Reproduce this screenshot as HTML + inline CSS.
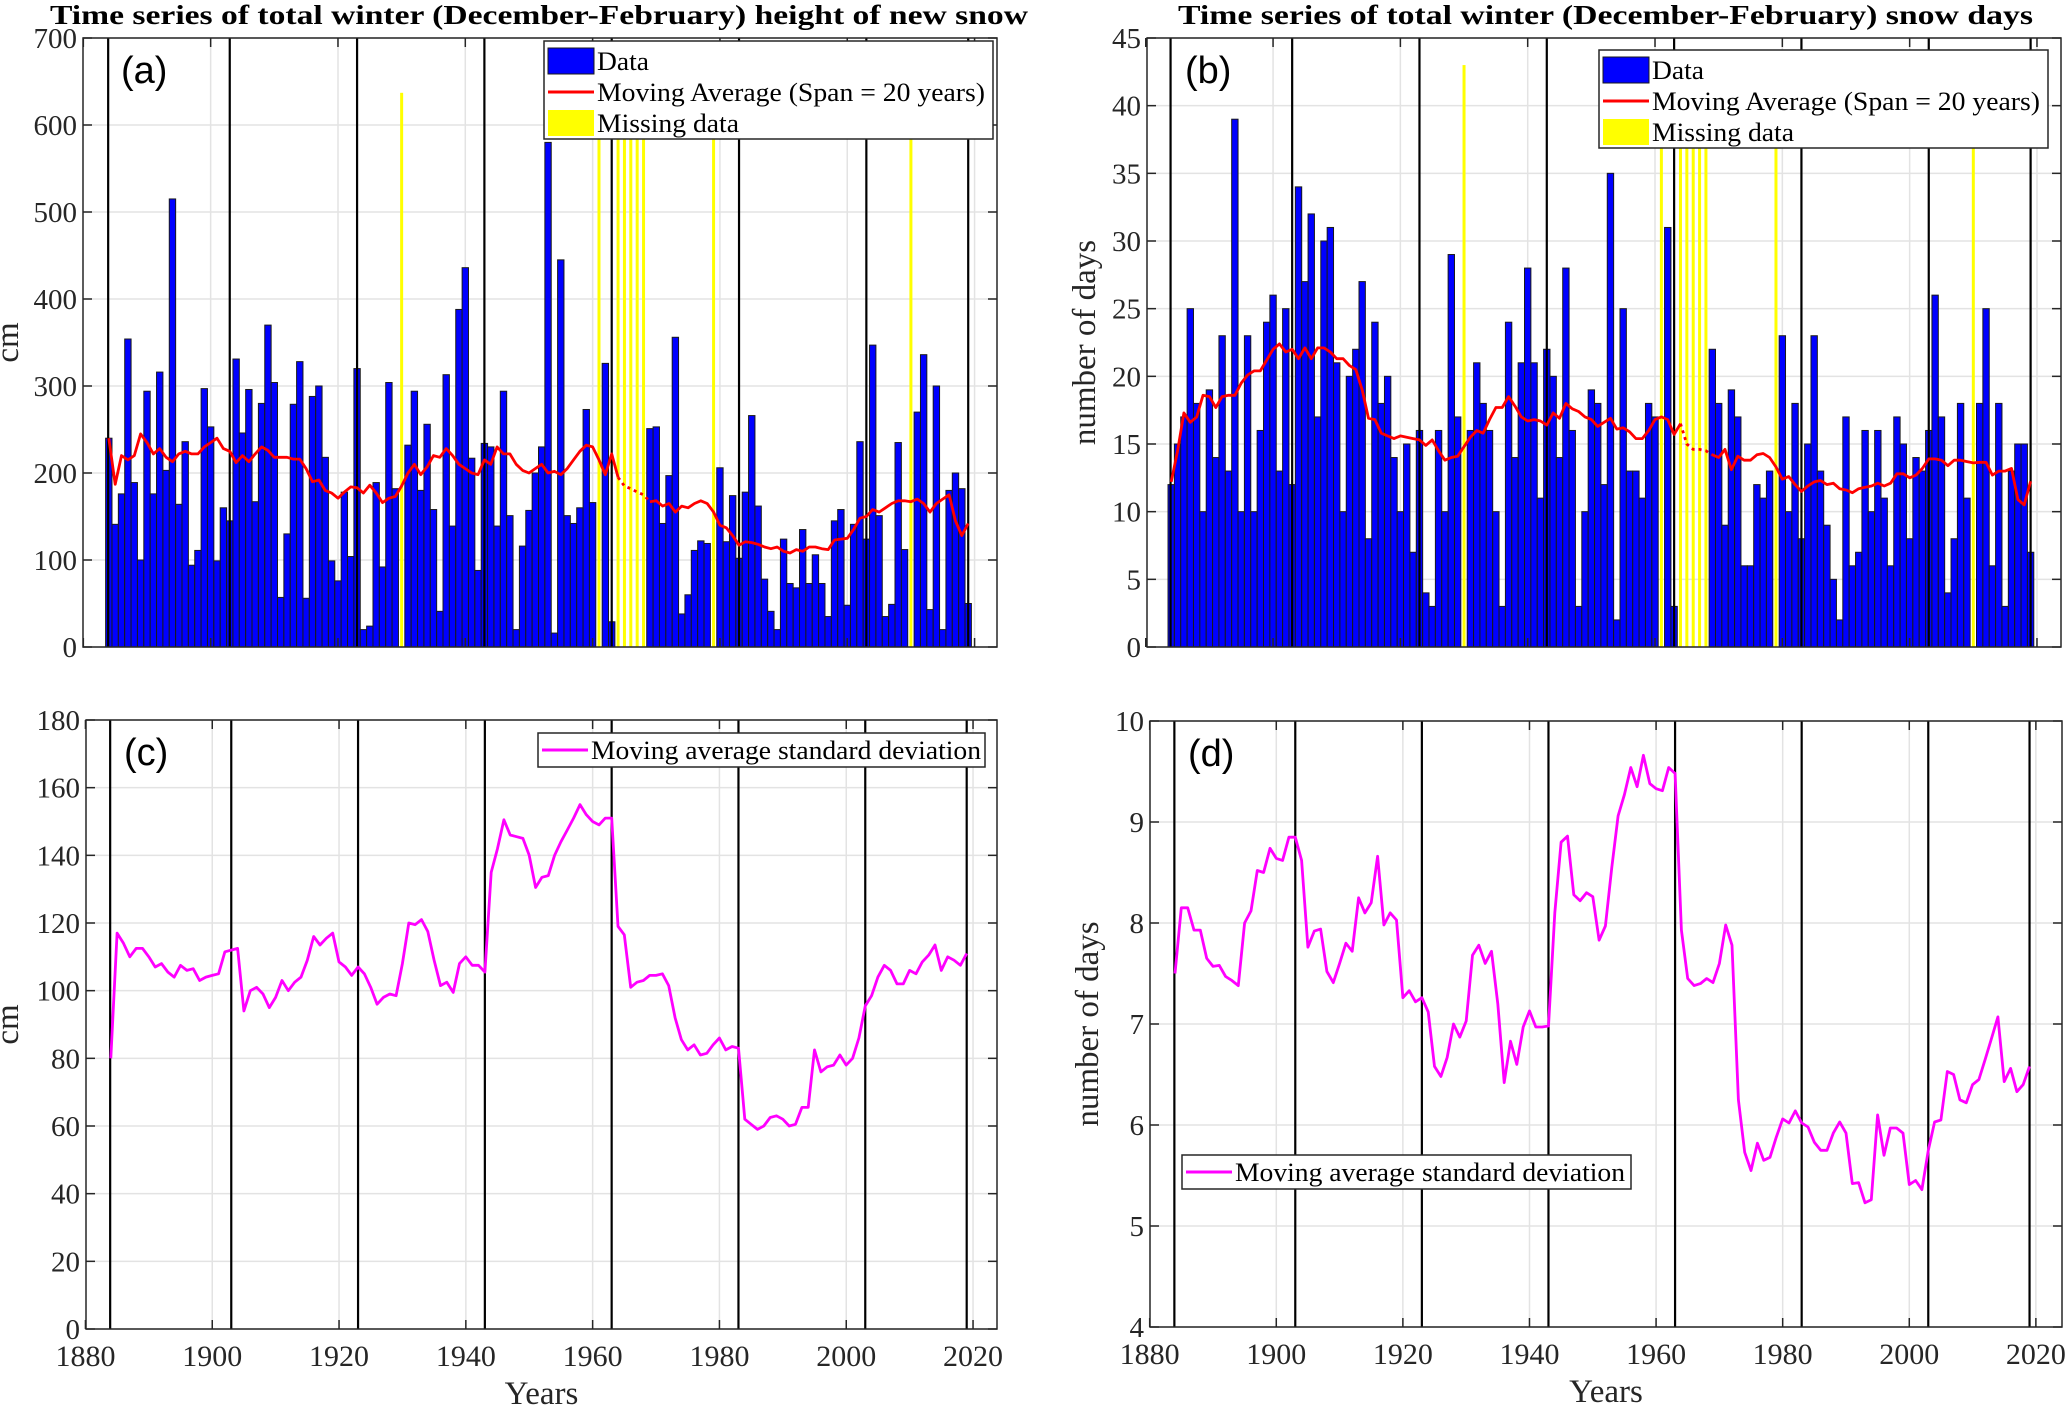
<!DOCTYPE html>
<html><head><meta charset="utf-8"><style>
html,body{margin:0;padding:0;background:#fff;}
svg{display:block;font-family:"Liberation Serif",serif;}
</style></head><body>
<svg id="chart" width="2067" height="1408" viewBox="0 0 2067 1408" xmlns="http://www.w3.org/2000/svg"></svg>
<script>
const firstYear = 1884;
const heightA = [240,141,176,354,189,100,294,176,316,203,
515,164,236,94,111,297,253,99,160,145,
331,246,296,167,280,370,304,57,130,279,
328,56,288,300,218,99,76,178,104,320,
20,24,189,92,304,182,null,232,294,180,
256,158,41,313,139,388,436,217,88,234,
230,139,294,151,20,116,157,200,230,580,
16,445,151,142,160,273,166,null,326,29,
null,null,null,null,null,251,253,142,197,356,
38,60,111,122,119,null,206,121,174,102,
178,266,162,78,41,20,124,73,68,135,
73,106,73,35,145,158,48,141,236,124,
347,151,35,49,235,112,null,270,336,43,
300,20,180,200,182,50];
const maA = [240,187,220,215,220,245,235,222,228,218,
213,222,225,222,222,230,235,240,228,225,
212,220,213,222,230,226,218,218,218,216,
216,205,190,192,180,177,171,178,184,183,
177,186,177,166,171,173,185,200,210,198,
207,220,218,228,220,210,205,200,198,215,
210,230,222,222,210,203,200,205,210,200,
202,198,205,215,225,232,230,215,198,222,
195,185,182,178,175,167,168,162,165,155,
162,160,165,168,165,155,140,137,128,117,
121,120,118,115,113,115,110,108,112,110,
115,115,113,112,123,124,125,135,148,150,
158,155,160,165,168,168,167,170,165,155,
165,170,175,145,128,142];
const daysB = [12,15,17,25,18,10,19,14,23,13,
39,10,23,10,16,24,26,13,25,12,
34,27,32,17,30,31,21,10,20,22,
27,8,24,18,20,14,10,15,7,16,
4,3,16,10,29,17,null,16,21,18,
16,10,3,24,14,21,28,21,11,22,
20,14,28,16,3,10,19,18,12,35,
2,25,13,13,11,18,17,null,31,3,
null,null,null,null,null,22,18,9,19,17,
6,6,12,11,13,null,23,10,18,8,
15,23,13,9,5,2,17,6,7,16,
10,16,11,6,17,15,8,14,13,16,
26,17,4,8,18,11,null,18,25,6,
18,3,13,15,15,7];
const maB = [12.2,14.5,17.3,16.6,17.0,18.6,18.5,17.7,18.5,18.6,
18.6,19.5,20.1,20.4,20.4,21.2,22.0,22.4,21.8,22.0,
21.3,22.1,21.3,22.1,22.1,21.8,21.3,21.3,20.8,20.5,
19.0,16.9,16.8,15.8,15.6,15.4,15.6,15.5,15.4,15.3,
14.9,15.3,14.5,13.8,14.0,14.1,14.8,15.5,16.0,15.8,
16.8,17.7,17.7,18.5,17.8,17.0,16.7,16.8,16.7,16.4,
17.3,16.9,18.0,17.6,17.4,17.0,16.8,16.3,16.6,16.9,
16.1,16.2,15.9,15.4,15.4,16.0,16.8,17.0,16.8,15.7,
16.5,15.0,14.6,14.6,14.5,14.2,14.0,14.6,13.1,14.1,
13.8,13.8,14.2,14.3,14.0,13.3,12.4,12.6,12.0,11.5,
11.9,12.2,12.3,12.0,12.1,11.7,11.6,11.4,11.7,11.8,
11.9,12.1,11.9,12.1,12.8,12.8,12.5,12.7,13.2,13.9,
13.9,13.8,13.4,13.8,13.8,13.7,13.6,13.65,13.65,12.7,
13.0,13.0,13.2,10.9,10.5,12.25];
const sdC = [80,117,114,110,112.5,112.5,110,107,108,105.5,
104,107.5,106,106.5,103,104,104.5,105,111.5,112,
112.5,94,100,101,99,95,98,103,100,102.5,
104,109,116,113.5,115.5,117,108.5,107,104.5,107,
105,101,96,98,99,98.5,108,120,119.5,121,
117.5,109,101.5,102.5,99.5,108,110,107.5,107.5,105.5,
135,142,150.5,146,145.5,145,140,130.5,133.5,134,
140,144,147.5,151,155,152,150,149,151,151,
119,116.5,101,102.5,103,104.5,104.5,105,101.5,92,
85.5,82.5,84,81,81.5,84,86,82.5,83.5,83,
62,60.5,59,60,62.5,63,62,60,60.5,65.5,
65.5,82.5,76,77.5,78,81,78,80,86,95.5,
98.5,104,107.5,106,102,102,106,105,108.5,110.5,
113.5,106,110,109,107.5,111];
const sdD = [7.5,8.15,8.15,7.93,7.93,7.65,7.57,7.58,7.47,7.43,
7.38,8.0,8.12,8.52,8.5,8.74,8.64,8.62,8.85,8.85,
8.62,7.76,7.92,7.94,7.52,7.41,7.6,7.8,7.72,8.25,
8.1,8.2,8.66,7.98,8.1,8.03,7.26,7.33,7.22,7.26,
7.12,6.58,6.48,6.67,7.0,6.87,7.03,7.68,7.78,7.6,
7.72,7.2,6.42,6.83,6.6,6.97,7.13,6.97,6.97,6.98,
8.1,8.8,8.86,8.28,8.22,8.3,8.26,7.83,7.97,8.55,
9.06,9.27,9.54,9.35,9.66,9.38,9.33,9.31,9.54,9.48,
7.93,7.45,7.38,7.4,7.45,7.41,7.6,7.98,7.78,6.25,
5.73,5.55,5.82,5.65,5.68,5.88,6.06,6.02,6.14,6.02,
5.98,5.83,5.75,5.75,5.92,6.03,5.92,5.42,5.43,5.23,
5.26,6.1,5.7,5.97,5.97,5.92,5.41,5.45,5.36,5.75,
6.03,6.05,6.53,6.5,6.25,6.22,6.4,6.45,6.65,6.86,
7.07,6.43,6.56,6.33,6.4,6.58];
const periodBounds = [1883.9,1903,1923,1943,1963,1983,2003,2019];
const missingTopA = 637;
const missingTopB = 43;
const ticksA = [0,100,200,300,400,500,600,700];
const ticksB = [0,5,10,15,20,25,30,35,40,45];
const ticksC = [0,20,40,60,80,100,120,140,160,180];
const ticksD = [4,5,6,7,8,9,10];
const yearTicks = [1880,1900,1920,1940,1960,1980,2000,2020];
const dashFrom = 1964, dashTo = 1969;

const NS = "http://www.w3.org/2000/svg";
const svg = document.getElementById('chart');
function mk(tag, attrs, parent){
  const e = document.createElementNS(NS, tag);
  for (const k in attrs) e.setAttribute(k, attrs[k]);
  (parent||svg).appendChild(e);
  return e;
}
function panel(cfg){
  const g = mk('g', {});
  
  
  const X = yr => cfg.x0 + (yr - firstYear) * cfg.pxYear;
  const Y = v => cfg.bottom - (v - cfg.ymin) / (cfg.ymax - cfg.ymin) * (cfg.bottom - cfg.top);
  // grid
  cfg.yticks.forEach(t => {
    const l = mk('line', {x1:cfg.left, x2:cfg.right, y1:Y(t), y2:Y(t), stroke:'#e3e3e3', 'stroke-width':1.5}, g);
    
    
  });
  yearTicks.forEach(t => {
    const x = X(t);
    if (x > cfg.left + 2 && x < cfg.right - 2) {
      const l = mk('line', {x1:x, x2:x, y1:cfg.top, y2:cfg.bottom, stroke:'#e3e3e3', 'stroke-width':1.5}, g);
      
      
    }
  });
  // bars
  if (cfg.bars) {
    cfg.bars.forEach((v, i) => {
      const yr = firstYear + i;
      if (v === null) {
        const l = mk('rect', {x:X(yr)-1.5, y:Y(cfg.missingTop), width:3, height:Y(0)-Y(cfg.missingTop), fill:'#ffff00'}, g);
        
        
      } else {
        const r = mk('rect', {x:X(yr)-cfg.pxYear/2, y:Y(v), width:cfg.pxYear, height:Y(0)-Y(v), fill:'#0000ff', stroke:'#1a1a1a', 'stroke-width':1}, g);
        
        
      }
    });
  }
  // period lines
  periodBounds.forEach(b => {
    const l = mk('line', {x1:X(b), x2:X(b), y1:cfg.top, y2:cfg.bottom, stroke:'#000', 'stroke-width':2.2}, g);
    
    
  });
  // line series
  const ser = cfg.line;
  let segs = [[],[],[]];
  ser.forEach((v, i) => {
    const yr = firstYear + i;
    const p = X(yr).toFixed(1) + ',' + Y(v).toFixed(1);
    if (cfg.dashed) {
      if (yr <= dashFrom) segs[0].push(p);
      if (yr >= dashFrom && yr <= dashTo) segs[1].push(p);
      if (yr >= dashTo) segs[2].push(p);
    } else segs[0].push(p);
  });
  segs.forEach((s, k) => {
    if (s.length < 2) return;
    const pl = mk('polyline', {points:s.join(' '), fill:'none', stroke:cfg.lineColor, 'stroke-width':2.8, 'stroke-linejoin':'round', 'stroke-dasharray': k===1 ? '3,4' : 'none'}, g);
    
    
  });
  // frame
  const fr = mk('rect', {x:cfg.left, y:cfg.top, width:cfg.right-cfg.left, height:cfg.bottom-cfg.top, fill:'none', stroke:'#262626', 'stroke-width':1.5}, g);
  
  
  // y ticks
  cfg.yticks.forEach(t => {
    mk('line', {x1:cfg.left, x2:cfg.left+9, y1:Y(t), y2:Y(t), stroke:'#262626', 'stroke-width':1.5}, g);
    mk('line', {x1:cfg.right-9, x2:cfg.right, y1:Y(t), y2:Y(t), stroke:'#262626', 'stroke-width':1.5}, g);
    const tx = mk('text', {x:cfg.left-6, y:Y(t)+10, 'text-anchor':'end', 'font-size':29, fill:'#262626'}, g);
    tx.textContent = t;
    
    
  });
  // x ticks
  yearTicks.forEach(t => {
    const x = X(t);
    if (x < cfg.left - 3 || x > cfg.right + 3) return;
    mk('line', {x1:x, x2:x, y1:cfg.bottom, y2:cfg.bottom-9, stroke:'#262626', 'stroke-width':1.5}, g);
    mk('line', {x1:x, x2:x, y1:cfg.top, y2:cfg.top+9, stroke:'#262626', 'stroke-width':1.5}, g);
    if (cfg.xlabels) {
      const tx = mk('text', {x:x, y:cfg.bottom+37, 'text-anchor':'middle', 'font-size':30, fill:'#262626'}, g);
      tx.textContent = t;
      
      
    }
  });
  if (cfg.xlabels) {
    const xt = mk('text', {x:(cfg.left+cfg.right)/2, y:cfg.bottom+75, 'text-anchor':'middle', 'font-size':33, fill:'#262626'}, g);
    xt.textContent = 'Years';
    
    
  }
  const yt = mk('text', {x:0, y:0, 'text-anchor':'middle', 'font-size':33, fill:'#262626', transform:'translate(' + cfg.ylabX + ',' + ((cfg.top+cfg.bottom)/2) + ') rotate(-90)'}, g);
  yt.textContent = cfg.ylabel;
  
  
  // panel letter
  const pl = mk('text', {x:cfg.left+38, y:cfg.top+45, 'font-size':38, 'font-family':'Liberation Sans, sans-serif', fill:'#000'}, g);
  pl.textContent = cfg.letter;
  
  
  if (cfg.title) {
    const t = mk('text', {x:cfg.titleX, y:24, 'font-size':27, 'font-weight':'bold', fill:'#000', textLength:cfg.titleW, lengthAdjust:'spacingAndGlyphs'}, g);
    t.textContent = cfg.title;
    
    
  }
  // legend
  const L = cfg.legend;
  const lg = mk('g', {}, g);
  
  
  mk('rect', {x:L.x, y:L.y, width:L.w, height:L.h, fill:'#fff', stroke:'#262626', 'stroke-width':1.5}, lg);
  L.items.forEach((it, k) => {
    const cy = L.y + L.first + k*L.step;
    if (it.kind === 'patch') {
      mk('rect', {x:L.x+4, y:cy-13, width:46, height:26, fill:it.color, stroke: it.color==='#0000ff' ? '#1a1a1a' : 'none', 'stroke-width':1}, lg);
    } else {
      mk('line', {x1:L.x+4, x2:L.x+50, y1:cy, y2:cy, stroke:it.color, 'stroke-width':3}, lg);
    }
    const tx = mk('text', {x:L.x+53, y:cy+9, 'font-size':26, fill:'#000', textLength:it.w, lengthAdjust:'spacingAndGlyphs'}, lg);
    tx.textContent = it.label;
    
    
  });
}
panel({name:'panel-a-snow-height', left:83, right:997, top:38, bottom:647, x0:108.8, pxYear:6.366,
  ymin:0, ymax:700, yticks:ticksA, bars:heightA, missingTop:missingTopA, line:maA, dashed:true,
  lineColor:'#ff0000', lineName:'moving-average-line', ylabel:'cm', ylabX:18, letter:'(a)', xlabels:false,
  title:'Time series of total winter (December-February) height of new snow', titleX:50, titleW:978,
  legend:{x:544, y:41, w:449, h:98, first:20, step:31, items:[
    {kind:'patch', color:'#0000ff', label:'Data', w:52},
    {kind:'line', color:'#ff0000', label:'Moving Average (Span = 20 years)', w:388},
    {kind:'patch', color:'#ffff00', label:'Missing data', w:142}]}});
panel({name:'panel-b-snow-days', left:1147, right:2061, top:38, bottom:647, x0:1171.2, pxYear:6.366,
  ymin:0, ymax:45, yticks:ticksB, bars:daysB, missingTop:missingTopB, line:maB, dashed:true,
  lineColor:'#ff0000', lineName:'moving-average-line', ylabel:'number of days', ylabX:1095, letter:'(b)', xlabels:false,
  title:'Time series of total winter (December-February) snow days', titleX:1178, titleW:855,
  legend:{x:1599, y:50, w:449, h:98, first:20, step:31, items:[
    {kind:'patch', color:'#0000ff', label:'Data', w:52},
    {kind:'line', color:'#ff0000', label:'Moving Average (Span = 20 years)', w:388},
    {kind:'patch', color:'#ffff00', label:'Missing data', w:142}]}});
panel({name:'panel-c-height-std', left:86, right:997, top:720, bottom:1329, x0:110.8, pxYear:6.34,
  ymin:0, ymax:180, yticks:ticksC, bars:null, line:sdC, dashed:false,
  lineColor:'#ff00ff', lineName:'std-deviation-line', ylabel:'cm', ylabX:18, letter:'(c)', xlabels:true,
  legend:{x:538, y:733, w:447, h:34, first:17, step:0, items:[
    {kind:'line', color:'#ff00ff', label:'Moving average standard deviation', w:390}]}});
panel({name:'panel-d-days-std', left:1150, right:2062, top:721, bottom:1327, x0:1175, pxYear:6.33,
  ymin:4, ymax:10, yticks:ticksD, bars:null, line:sdD, dashed:false,
  lineColor:'#ff00ff', lineName:'std-deviation-line', ylabel:'number of days', ylabX:1098, letter:'(d)', xlabels:true,
  legend:{x:1182, y:1155, w:449, h:34, first:17, step:0, items:[
    {kind:'line', color:'#ff00ff', label:'Moving average standard deviation', w:390}]}});
</script>
</body></html>
